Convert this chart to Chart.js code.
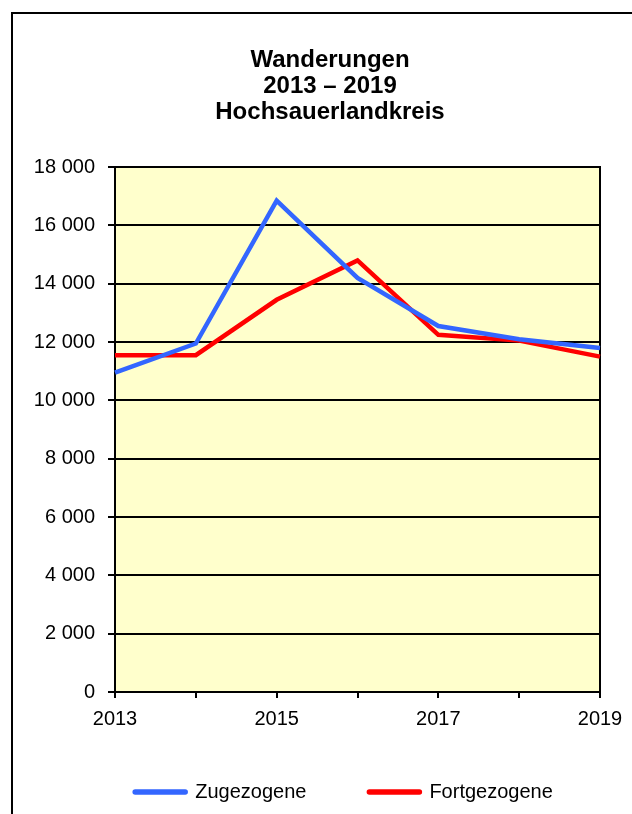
<!DOCTYPE html>
<html>
<head>
<meta charset="utf-8">
<script src="https://cdn.jsdelivr.net/npm/chart.js@4/dist/chart.umd.min.js"></script>
<style>
  html, body { margin: 0; padding: 0; background: #fff; overflow: hidden; }
  #frame { position: absolute; left: 11px; top: 12px; width: 700px; height: 900px; border: 2px solid #000; box-sizing: border-box; }
  #wrap { position: absolute; left: 0; top: 0; width: 660px; height: 814px; }
</style>
</head>
<body>
<div id="frame"></div>
<div id="wrap"><canvas id="c" width="660" height="814"></canvas></div>
<script>
// Wanderungen im Hochsauerlandkreis, 2013–2019
const years = ['2013', '2014', '2015', '2016', '2017', '2018', '2019'];
const zugezogene = [10950, 11950, 16850, 14200, 12550, 12100, 11800];
const fortgezogene = [11550, 11550, 13450, 14800, 12250, 12050, 11500];
const titleLines = ['Wanderungen', '2013 – 2019', 'Hochsauerlandkreis'];
const shownYears = ['2013', '2015', '2017', '2019'];

const FONT = "'Liberation Sans', Arial, sans-serif";

// Pale yellow plot background
const plotBackground = {
  id: 'plotBackground',
  beforeDraw(chart) {
    const { ctx, chartArea: a } = chart;
    ctx.save();
    ctx.fillStyle = '#FFFFCC';
    ctx.fillRect(a.left, a.top, a.right - a.left, a.bottom - a.top);
    ctx.restore();
  }
};

// Place the legend row: a little right of the title axis and slightly raised
const legendShift = {
  id: 'legendShift',
  afterLayout(chart) {
    const lg = chart.legend;
    if (lg) {
      lg.left += 14; lg.right += 14;
      lg.top -= 15;
    }
  }
};

const fmt = v => {
  const s = String(Math.round(v));
  return s.length > 3 ? s.slice(0, s.length - 3) + ' ' + s.slice(-3) : s;
};

new Chart(document.getElementById('c'), {
  type: 'line',
  data: {
    labels: years,
    datasets: [
      { label: 'Zugezogene', data: zugezogene, borderColor: '#3366FF', backgroundColor: '#3366FF',
        borderWidth: 4.5, pointRadius: 0, tension: 0, yAxisID: 'y' },
      { label: 'Fortgezogene', data: fortgezogene, borderColor: '#FF0000', backgroundColor: '#FF0000',
        borderWidth: 4.5, pointRadius: 0, tension: 0, yAxisID: 'y' }
    ]
  },
  options: {
    responsive: false,
    animation: false,
    devicePixelRatio: 1,
    layout: { padding: { left: 0, right: 0, top: 0, bottom: 2 } },
    plugins: {
      tooltip: { enabled: false },
      title: {
        display: true,
        text: titleLines,
        color: '#000',
        font: { family: FONT, size: 24, weight: 'bold', lineHeight: 1.085 },
        padding: { top: 47, bottom: 42 }
      },
      legend: {
        position: 'bottom',
        maxHeight: 78,
        labels: {
          color: '#000',
          font: { family: FONT, size: 20 },
          usePointStyle: true,
          pointStyle: 'line',
          pointStyleWidth: 50,
          boxHeight: 6,
          padding: 63,
          generateLabels(chart) {
            return chart.data.datasets.map((ds, i) => ({
              text: ds.label,
              datasetIndex: i,
              strokeStyle: ds.borderColor,
              fillStyle: ds.borderColor,
              lineWidth: 5.5,
              lineCap: 'round',
              pointStyle: 'line',
              fontColor: '#000',
              hidden: false
            }));
          }
        }
      }
    },
    scales: {
      x: {
        type: 'category',
        offset: false,
        afterFit(scale) { scale.height = 42; },
        grid: { display: true, drawOnChartArea: false, drawTicks: true, tickLength: 6, color: '#000', lineWidth: 2 },
        border: { display: true, color: '#000', width: 2 },
        ticks: {
          color: '#000',
          font: { family: FONT, size: 20 },
          padding: 9,
          maxRotation: 0,
          autoSkip: false,
          callback(v, i) { const y = years[i]; return shownYears.includes(y) ? y : ''; }
        }
      },
      y: {
        position: 'left',
        min: 0, max: 18000,
        afterFit(scale) { scale.width = 115; },
        grid: { display: true, drawOnChartArea: true, drawTicks: true, tickLength: 7, color: '#000', lineWidth: 2 },
        border: { display: true, color: '#000', width: 2 },
        ticks: { stepSize: 2000, color: '#000', font: { family: FONT, size: 20 }, padding: 13, callback: fmt }
      },
      y2: {
        position: 'right',
        min: 0, max: 18000,
        afterFit(scale) { scale.width = 60; },
        grid: { display: false },
        border: { display: true, color: '#000', width: 2 },
        ticks: { display: false }
      }
    }
  },
  plugins: [plotBackground, legendShift]
});
</script>
</body>
</html>
